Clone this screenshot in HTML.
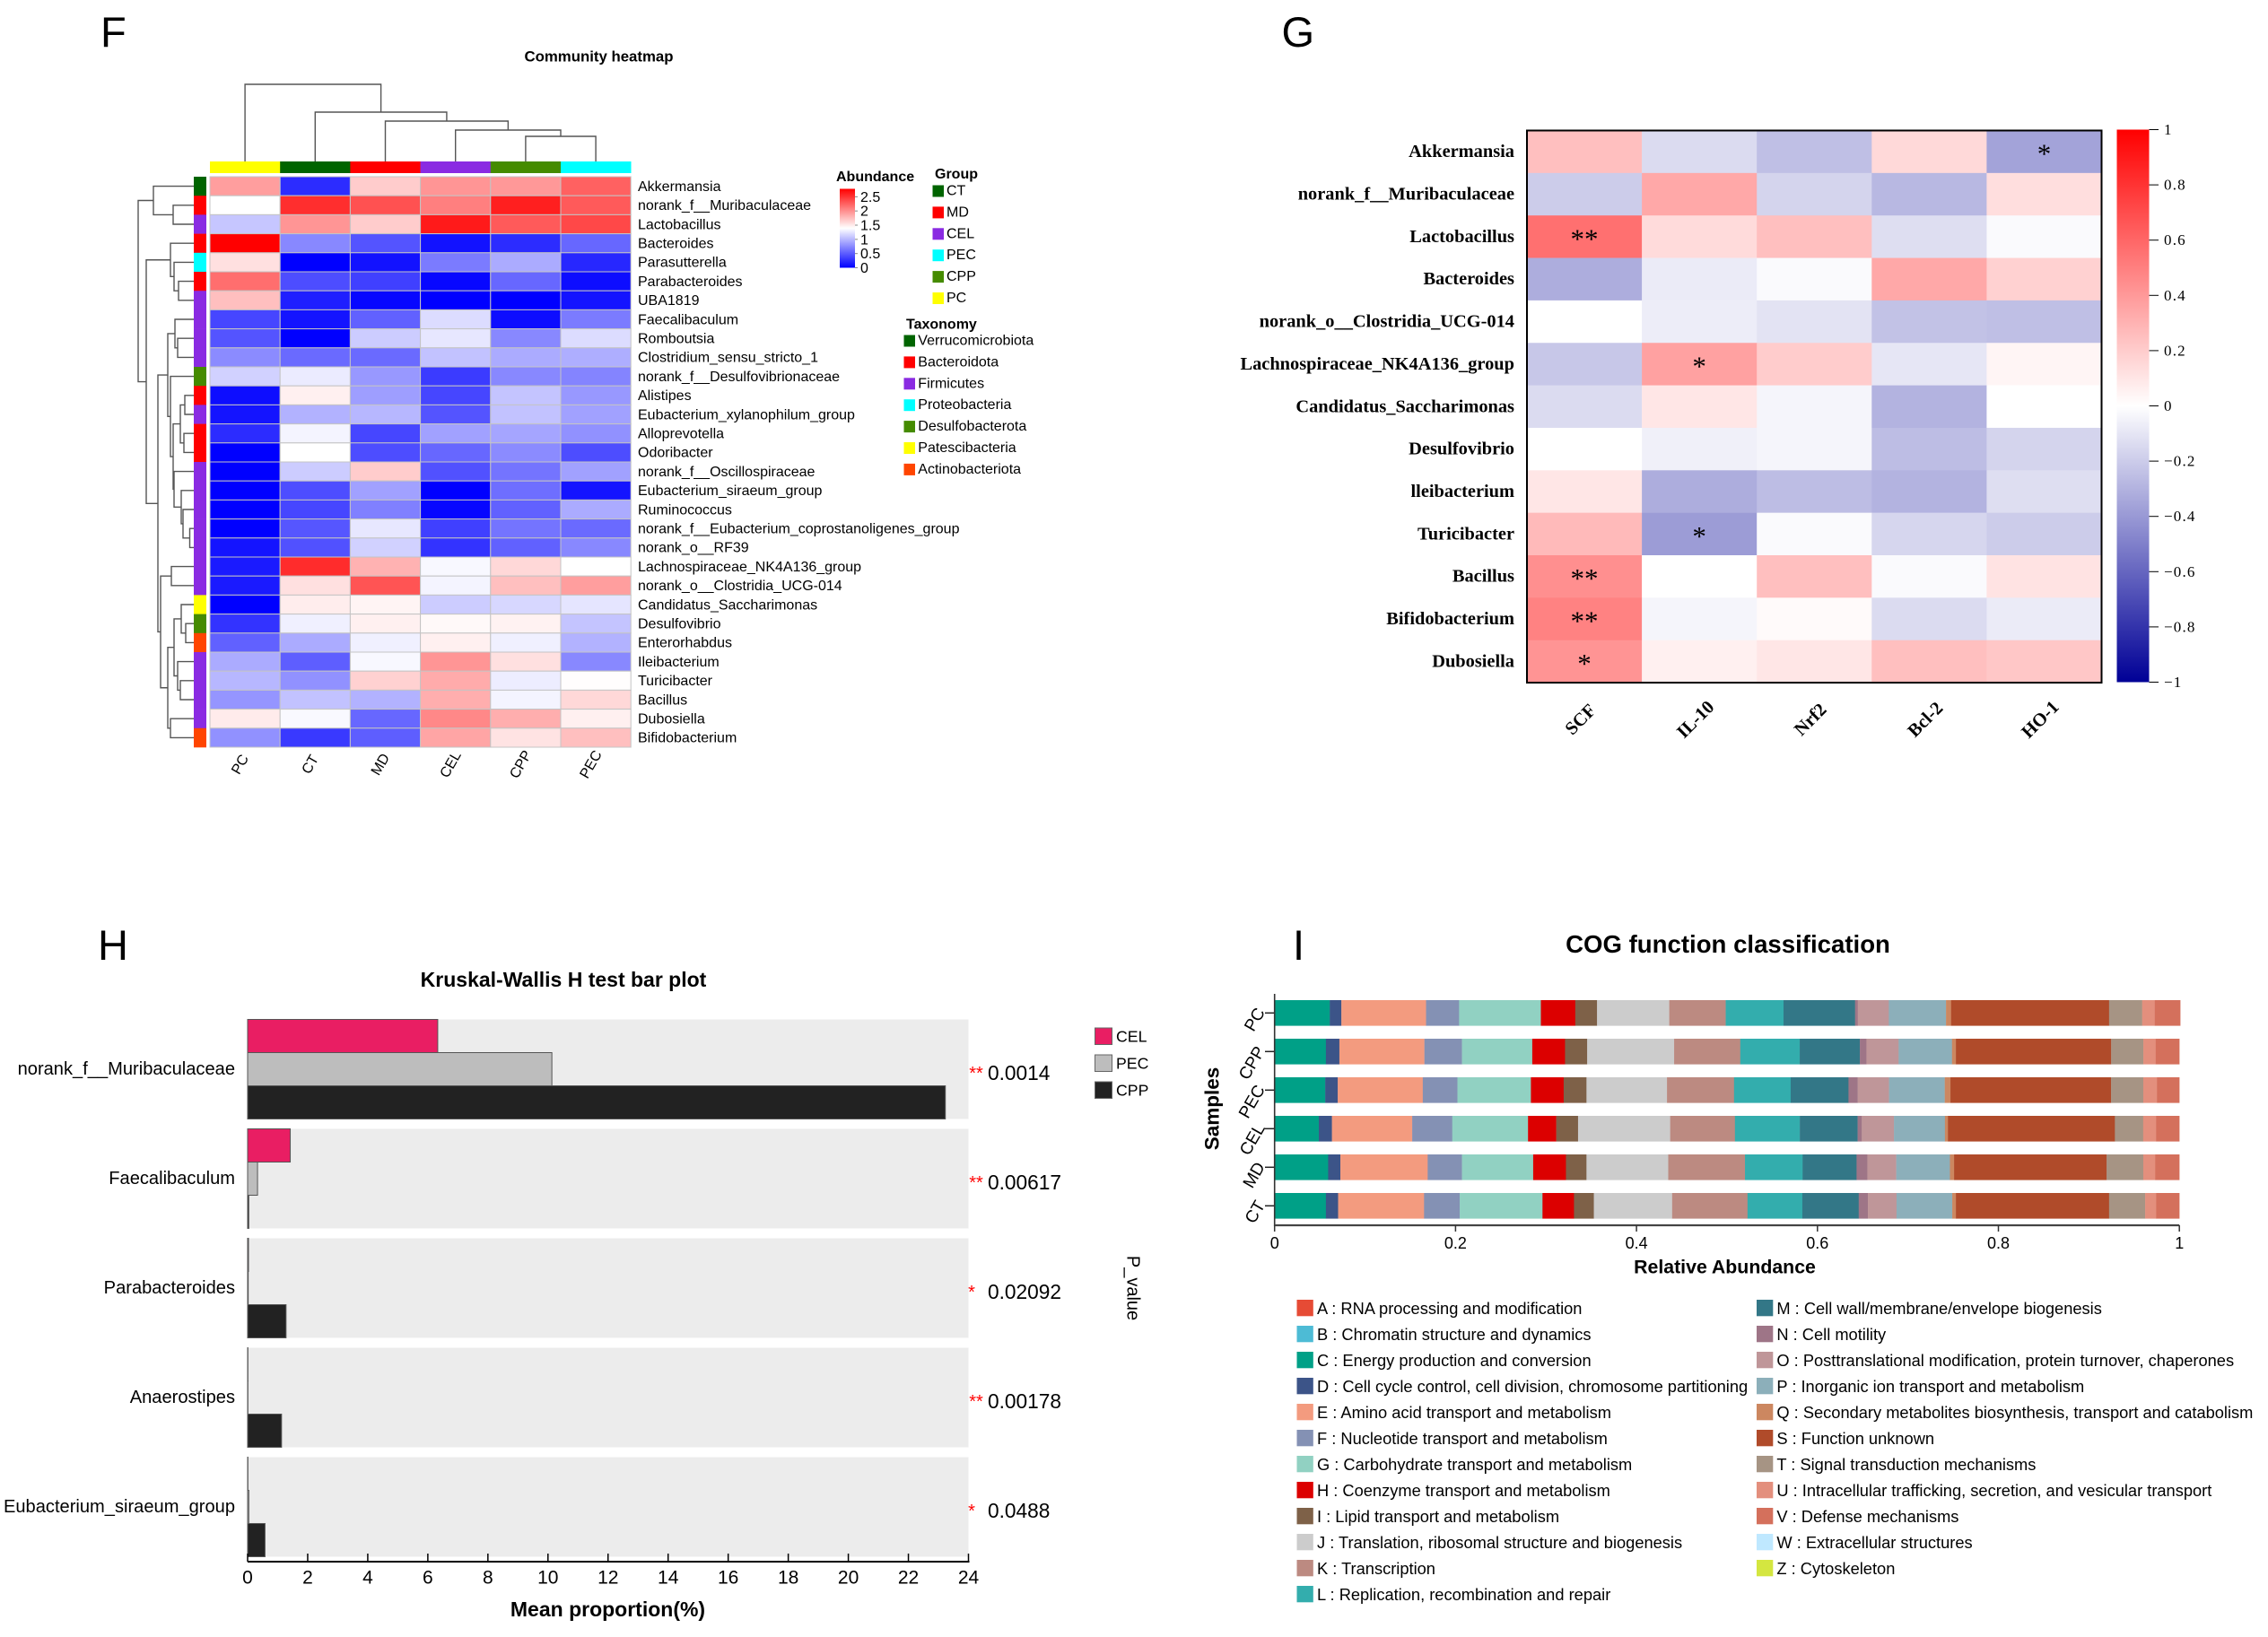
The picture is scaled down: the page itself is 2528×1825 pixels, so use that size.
<!DOCTYPE html>
<html lang="en">
<head>
<meta charset="utf-8">
<title>Community heatmap, correlation heatmap, Kruskal-Wallis bar plot and COG classification</title>
<style>
html,body{margin:0;padding:0;background:#fff;width:2528px;height:1825px;overflow:hidden}
svg{display:block}
text{font-family:"Liberation Sans",Arial,sans-serif;fill:#000}
.serif text,text.serif{font-family:"Liberation Serif","Times New Roman",serif}
.c{dominant-baseline:central}
</style>
</head>
<body>
<svg id="root" width="2528" height="1825" viewBox="0 0 2528 1825">
<defs>
<linearGradient id="abGrad" x1="0" y1="1" x2="0" y2="0"><stop offset="0" stop-color="#0000ff"/><stop offset="0.5" stop-color="#ffffff"/><stop offset="1" stop-color="#ff0000"/></linearGradient>
<linearGradient id="corGrad" x1="0" y1="1" x2="0" y2="0"><stop offset="0" stop-color="#000096"/><stop offset="0.5" stop-color="#ffffff"/><stop offset="1" stop-color="#ff0000"/></linearGradient>
</defs>
<g id="panelF">
<text x="112" y="52" font-size="47">F</text>
<text x="667.5" y="63" class="c" font-size="16.8" font-weight="bold" text-anchor="middle">Community heatmap</text>
<text x="932" y="197.5" class="c" font-size="16" font-weight="bold">Abundance</text>
<rect x="936" y="210.5" width="17" height="88" fill="url(#abGrad)"/>
<text x="1042" y="194.5" class="c" font-size="16" font-weight="bold">Group</text>
<text x="1010" y="362" class="c" font-size="16" font-weight="bold">Taxonomy</text>
</g>
<g id="panelG" class="serif">
<text x="1428.5" y="52" font-size="47" style="font-family:'Liberation Sans',sans-serif">G</text>
<rect x="2359.5" y="144.5" width="36" height="616" fill="url(#corGrad)"/>
</g>
<g id="panelH">
<text x="109" y="1070" font-size="47">H</text>
<text x="628" y="1092" class="c" font-size="23" font-weight="bold" text-anchor="middle">Kruskal-Wallis H test bar plot</text>
<text x="677.5" y="1794" class="c" font-size="23" font-weight="bold" text-anchor="middle">Mean proportion(%)</text>
<text transform="translate(1262.5,1436) rotate(90)" class="c" font-size="20" text-anchor="middle">P_value</text>
</g>
<g id="panelI">
<text x="1441" y="1070" font-size="47">I</text>
<text x="1926" y="1052.5" class="c" font-size="27.6" font-weight="bold" text-anchor="middle">COG function classification</text>
<text x="1922.5" y="1412.5" class="c" font-size="21.3" font-weight="bold" text-anchor="middle">Relative Abundance</text>
<text transform="translate(1351,1236) rotate(-90)" class="c" font-size="22.5" font-weight="bold" text-anchor="middle">Samples</text>
</g>
</svg>
<script>
const root = document.getElementById('root');
const NS = root.namespaceURI;
function mk(tag, parent, attrs, text) {
  const el = document.createElementNS(NS, tag);
  for (const k in attrs) el.setAttribute(k, attrs[k]);
  if (text !== undefined) el.textContent = text;
  parent.appendChild(el);
  return el;
}

/* ---------- Panel F: community heatmap ---------- */
const abundanceSamples = ['PC','CT','MD','CEL','CPP','PEC'];
const abundanceTaxa = ['Akkermansia','norank_f__Muribaculaceae','Lactobacillus','Bacteroides','Parasutterella','Parabacteroides','UBA1819','Faecalibaculum','Romboutsia','Clostridium_sensu_stricto_1','norank_f__Desulfovibrionaceae','Alistipes','Eubacterium_xylanophilum_group','Alloprevotella','Odoribacter','norank_f__Oscillospiraceae','Eubacterium_siraeum_group','Ruminococcus','norank_f__Eubacterium_coprostanoligenes_group','norank_o__RF39','Lachnospiraceae_NK4A136_group','norank_o__Clostridia_UCG-014','Candidatus_Saccharimonas','Desulfovibrio','Enterorhabdus','Ileibacterium','Turicibacter','Bacillus','Dubosiella','Bifidobacterium'];
const abundanceValues = [
[1.92,0.24,1.67,1.97,1.95,2.25],
[1.39,2.53,2.34,2.09,2.61,2.29],
[1.08,1.97,1.67,2.64,2.29,2.39],
[2.78,0.74,0.46,0.10,0.24,0.56],
[1.56,0,0.10,0.67,0.93,0.21],
[2.18,0.42,0.35,0.04,0.56,0.07],
[1.74,0.17,0.04,0,0,0.11],
[0.38,0.11,0.53,1.20,0.07,0.67],
[0.46,0,1.11,1.26,0.74,1.20],
[0.76,0.58,0.58,1.06,0.93,0.95],
[1.14,1.28,0.83,0.32,0.74,0.72],
[0.07,1.47,0.86,0.38,1.07,0.83],
[0.11,0.97,1.00,0.46,1.06,0.88],
[0.24,1.33,0.38,0.88,0.90,0.79],
[0,1.39,0.42,0.56,0.76,0.42],
[0,1.11,1.67,0.44,0.63,0.88],
[0,0.42,0.88,0,0.60,0.11],
[0,0.38,0.70,0.04,0.53,0.93],
[0,0.47,1.26,0.35,0.63,0.58],
[0.11,0.44,1.14,0.28,0.53,0.74],
[0.14,2.54,1.81,1.35,1.60,1.39],
[0.14,1.56,2.32,1.33,1.74,1.92],
[0,1.49,1.45,1.11,1.17,1.25],
[0.28,1.31,1.47,1.42,1.46,1.07],
[0.53,0.93,1.31,1.47,1.31,0.97],
[0.93,0.51,1.35,1.97,1.56,0.74],
[1.00,0.79,1.64,1.85,1.29,1.40],
[0.81,1.06,0.97,1.83,1.33,1.60],
[1.50,1.36,0.56,2.04,1.83,1.47],
[0.79,0.31,0.51,1.88,1.54,1.74]
];
const taxonPhylum = ['Verrucomicrobiota','Bacteroidota','Firmicutes','Bacteroidota','Proteobacteria','Bacteroidota','Firmicutes','Firmicutes','Firmicutes','Firmicutes','Desulfobacterota','Bacteroidota','Firmicutes','Bacteroidota','Bacteroidota','Firmicutes','Firmicutes','Firmicutes','Firmicutes','Firmicutes','Firmicutes','Firmicutes','Patescibacteria','Desulfobacterota','Actinobacteriota','Firmicutes','Firmicutes','Firmicutes','Firmicutes','Actinobacteriota'];
const phylumNames = ['Verrucomicrobiota','Bacteroidota','Firmicutes','Proteobacteria','Desulfobacterota','Patescibacteria','Actinobacteriota'];
const phylumColors = ['#006400','#ff0000','#8a2be2','#00ffff','#458b00','#ffff00','#ff4500'];
const groupNames = ['CT','MD','CEL','PEC','CPP','PC'];
const groupColors = ['#006400','#ff0000','#8a2be2','#00ffff','#458b00','#ffff00'];
const abundanceTicks = [0,0.5,1,1.5,2,2.5];
const abundanceMax = 2.78;
/* dendrograms: [merge distance, child, child]; integers are leaf indices */
const rowTree = [62,[45,0,[23,1,2]],[53,[26,3,[22,4,[17,5,6]]],[40,[29,[21,7,[18,8,9]],[26,10,[23,[15,[10,11,12],[11,13,14]],[22,15,[14,16,[12,17,[4.5,18,19]]]]]]],[37,[25,20,21],[29,[22,[14,22,[9,23,24]],[18,25,[15,26,27]]],[26,28,29]]]]]];
const colTree = [86,0,[55,1,[45,2,[35,3,[28,4,5]]]]];

(function(){
  const g = document.getElementById('panelF');
  const left = 234, top = 197, cw = 78.2, rh = 21.2;
  const xCell = i => left + i * cw;
  const yCell = i => top + i * rh;
  const color = v => {
    const t = Math.max(0, Math.min(1, v / abundanceMax));
    if (t < 0.5) { const c = Math.round(255 * t * 2); return `rgb(${c},${c},255)`; }
    const c = Math.round(255 * (1 - t) * 2); return `rgb(255,${c},${c})`;
  };
  abundanceValues.forEach((row, r) => {
    row.forEach((v, c) => {
      const cell = mk('rect', g, {x:xCell(c), y:yCell(r), width:cw, height:rh, fill:color(v), stroke:'#c4c4c4', 'stroke-width':1});
      
      
    });
    const side = mk('rect', g, {x:216, y:yCell(r), width:14, height:rh+0.3, fill:phylumColors[phylumNames.indexOf(taxonPhylum[r])]});
    
    
    const lab = mk('text', g, {x:711, y:yCell(r)+rh/2+0.8, class:'c', 'font-size':16}, abundanceTaxa[r]);
    
    
  });
  abundanceSamples.forEach((s, c) => {
    const bar = mk('rect', g, {x:xCell(c), y:180, width:cw+0.3, height:13, fill:groupColors[groupNames.indexOf(s)]});
    
    
    const cx = xCell(c) + cw/2 - 5, cy = 852.5;
    const lab = mk('text', g, {transform:`translate(${cx},${cy}) rotate(-60)`, class:'c', 'font-size':16, 'text-anchor':'middle'}, s);
    
    
  });
  /* row dendrogram */
  const xDist = d => 216 - d;
  function drawRow(n) {
    if (typeof n === 'number') return {x:xDist(0), y:yCell(n)+rh/2};
    const a = drawRow(n[1]), b = drawRow(n[2]), x = xDist(n[0]);
    const p = mk('path', g, {d:`M${a.x} ${a.y}H${x}V${b.y}H${b.x}`, fill:'none', stroke:'#555', 'stroke-width':1.4});
    
    
    return {x, y:(a.y+b.y)/2};
  }
  drawRow(rowTree);
  /* column dendrogram */
  const yDist = d => 180 - d;
  function drawCol(n) {
    if (typeof n === 'number') return {x:xCell(n)+cw/2, y:yDist(0)};
    const a = drawCol(n[1]), b = drawCol(n[2]), y = yDist(n[0]);
    const p = mk('path', g, {d:`M${a.x} ${a.y}V${y}H${b.x}V${b.y}`, fill:'none', stroke:'#555', 'stroke-width':1.4});
    
    
    return {x:(a.x+b.x)/2, y};
  }
  drawCol(colTree);
  /* abundance colorbar ticks */
  const yTick = v => 298.5 - v / abundanceMax * 88;
  abundanceTicks.forEach(v => {
    const t = mk('line', g, {x1:953, x2:956, y1:yTick(v), y2:yTick(v), stroke:'#888', 'stroke-width':1});
    
    
    const l = mk('text', g, {x:959, y:yTick(v)+1, class:'c', 'font-size':16}, String(v));
    
    
  });
  /* group legend */
  groupNames.forEach((n, i) => {
    const y = 206.5 + i * 23.9;
    const s = mk('rect', g, {x:1039.5, y, width:12.5, height:13, fill:groupColors[i]});
    
    
    const l = mk('text', g, {x:1055, y:y+6.5, class:'c', 'font-size':16}, n);
    
    
  });
  /* taxonomy legend */
  phylumNames.forEach((n, i) => {
    const y = 373.5 + i * 23.9;
    const s = mk('rect', g, {x:1007.5, y, width:12.5, height:13, fill:phylumColors[i]});
    
    
    const l = mk('text', g, {x:1023.3, y:y+6.5, class:'c', 'font-size':16}, n);
    
    
  });
})();

/* ---------- Panel G: correlation heatmap ---------- */
const corTaxa = ['Akkermansia','norank_f__Muribaculaceae','Lactobacillus','Bacteroides','norank_o__Clostridia_UCG-014','Lachnospiraceae_NK4A136_group','Candidatus_Saccharimonas','Desulfovibrio','lleibacterium','Turicibacter','Bacillus','Bifidobacterium','Dubosiella'];
const corMarkers = ['SCF','IL-10','Nrf2','Bcl-2','HO-1'];
const corValues = [
[0.25,-0.14,-0.25,0.15,-0.36],
[-0.20,0.34,-0.17,-0.28,0.13],
[0.56,0.14,0.25,-0.13,-0.02],
[-0.32,-0.08,-0.02,0.34,0.18],
[0,-0.07,-0.11,-0.24,-0.25],
[-0.22,0.37,0.20,-0.10,0.04],
[-0.14,0.10,-0.04,-0.30,0],
[0,-0.06,-0.04,-0.26,-0.17],
[0.10,-0.32,-0.26,-0.30,-0.13],
[0.27,-0.39,-0.02,-0.16,-0.20],
[0.44,0,0.25,-0.02,0.11],
[0.49,-0.04,0.02,-0.14,-0.08],
[0.42,0.06,0.10,0.25,0.22]
];
const corStars = [
['','','','','*'],
['','','','',''],
['**','','','',''],
['','','','',''],
['','','','',''],
['','*','','',''],
['','','','',''],
['','','','',''],
['','','','',''],
['','*','','',''],
['**','','','',''],
['**','','','',''],
['*','','','','']
];
const corTicks = [1,0.8,0.6,0.4,0.2,0,-0.2,-0.4,-0.6,-0.8,-1];

(function(){
  const g = document.getElementById('panelG');
  const left = 1702, top = 145.5, cw = 128.1, rh = 47.35;
  const xCell = i => left + i * cw;
  const yCell = i => top + i * rh;
  const color = v => {
    if (v >= 0) { const c = Math.round(255 * (1 - v)); return `rgb(255,${c},${c})`; }
    const a = -v, c = Math.round(255 * (1 - a));
    return `rgb(${c},${c},${Math.round(255 - 105 * a)})`;
  };
  corValues.forEach((row, r) => {
    row.forEach((v, c) => {
      const cell = mk('rect', g, {x:xCell(c), y:yCell(r), width:cw+0.3, height:rh+0.3, fill:color(v)});
      
      
      if (corStars[r][c]) {
        const st = mk('text', g, {x:xCell(c)+cw/2, y:yCell(r)+rh/2+12.5, 'font-size':31, 'text-anchor':'middle'}, corStars[r][c]);
        
        
      }
    });
    const lab = mk('text', g, {x:1688, y:yCell(r)+rh/2, class:'c', 'font-size':20.4, 'font-weight':'bold', 'text-anchor':'end'}, corTaxa[r]);
    
    
  });
  const frame = mk('rect', g, {x:left, y:top, width:cw*5, height:rh*13, fill:'none', stroke:'#000', 'stroke-width':2});
  
  
  corMarkers.forEach((m, c) => {
    const lab = mk('text', g, {transform:`translate(${xCell(c)+cw/2-4},802.5) rotate(-45)`, class:'c', 'font-size':20.5, 'font-weight':'bold', 'text-anchor':'middle'}, m);
    
    
  });
  const yBar = v => 452.5 - v * 308;
  corTicks.forEach(v => {
    const t = mk('line', g, {x1:2395.5, x2:2406, y1:yBar(v), y2:yBar(v), stroke:'#000', 'stroke-width':1});
    
    
    const l = mk('text', g, {x:2412, y:yBar(v), class:'c', 'font-size':17, 'letter-spacing':1.2}, String(v).replace('-', '\u2212'));
    
    
  });
})();

/* ---------- Panel H: Kruskal-Wallis bar plot ---------- */
const kwTaxa = ['norank_f__Muribaculaceae','Faecalibaculum','Parabacteroides','Anaerostipes','Eubacterium_siraeum_group'];
const kwCEL = [6.33,1.42,0.03,0.01,0.01];
const kwPEC = [10.13,0.33,0.02,0.01,0.04];
const kwCPP = [23.23,0.04,1.28,1.13,0.58];
const kwStars = ['**','**','*','**','*'];
const kwPValues = ['0.0014','0.00617','0.02092','0.00178','0.0488'];
const kwTicks = [0,2,4,6,8,10,12,14,16,18,20,22,24];
const kwLegend = ['CEL','PEC','CPP'];
const kwColors = ['#e91e63','#bdbdbd','#222222'];

(function(){
  const g = document.getElementById('panelH');
  const x0 = 276, x1 = 1079.5;
  const xScale = v => x0 + v / 24 * (x1 - x0);
  const groupTop = i => 1136.5 + i * 122;
  const gh = 111, bh = gh / 3;
  const series = [kwCEL, kwPEC, kwCPP];
  kwTaxa.forEach((t, i) => {
    const y = groupTop(i);
    const bg = mk('rect', g, {x:x0, y, width:x1-x0, height:gh, fill:'#ececec'});
    
    
    series.forEach((s, k) => {
      const bar = mk('rect', g, {x:x0, y:y+k*bh, width:xScale(s[i])-x0, height:bh, fill:kwColors[k], stroke:'#555', 'stroke-width':1});
      
      
    });
    const lab = mk('text', g, {x:262, y:y+55.5, class:'c', 'font-size':20.1, 'text-anchor':'end'}, t);
    
    
    const single = kwStars[i].length === 1;
    const st = mk('text', g, {x:single ? 1083 : 1088, y:y+66.5, 'font-size':20, 'text-anchor':'middle', style:'fill:#ff0000'}, kwStars[i]);
    
    
    const p = mk('text', g, {x:1101, y:y+59.5, class:'c', 'font-size':22.7}, kwPValues[i]);
    
    
  });
  const axis = mk('line', g, {x1:x0, x2:x1+1, y1:1741, y2:1741, stroke:'#000', 'stroke-width':2});
  
  
  kwTicks.forEach(v => {
    const t = mk('line', g, {x1:xScale(v), x2:xScale(v), y1:1732, y2:1741, stroke:'#000', 'stroke-width':1.5});
    
    
    const l = mk('text', g, {x:xScale(v), y:1759, class:'c', 'font-size':21, 'text-anchor':'middle'}, String(v));
    
    
  });
  kwLegend.forEach((n, i) => {
    const y = 1146 + i * 30;
    const s = mk('rect', g, {x:1220.5, y, width:19, height:18.5, fill:kwColors[i], stroke:'#666', 'stroke-width':1});
    
    
    const l = mk('text', g, {x:1244, y:y+9.5, class:'c', 'font-size':17.7}, n);
    
    
  });
})();

/* ---------- Panel I: COG function classification ---------- */
const cogSamples = ['PC','CPP','PEC','CEL','MD','CT'];
const cogOrder = ['C','D','E','F','G','H','I','J','K','L','M','N','O','P','Q','S','T','U','V'];
const cogSharesPC  = [.061,.0128,.0936,.0365,.0904,.038,.0241,.0798,.0624,.0639,.0791,.003,.0343,.0632,.0056,.1746,.0366,.0138,.0283];
const cogSharesCPP = [.0567,.0149,.094,.0415,.0777,.0362,.0245,.0961,.0731,.0657,.0665,.0072,.0356,.059,.0043,.1716,.0356,.0135,.0263];
const cogSharesPEC = [.056,.0138,.094,.0383,.0812,.0362,.0252,.089,.0741,.0626,.0639,.0102,.0346,.0616,.0063,.1775,.0356,.0152,.0247];
const cogSharesCEL = [.0489,.0145,.0887,.0443,.0837,.0312,.0241,.1018,.0716,.0717,.0639,.0046,.0356,.0563,.0033,.1845,.0313,.0142,.0258];
const cogSharesMD  = [.0592,.0135,.0965,.0379,.0787,.0362,.0227,.0904,.0848,.0637,.0596,.0119,.032,.0593,.0046,.1686,.0405,.0132,.0267];
const cogSharesCT  = [.0567,.0135,.095,.0394,.0915,.0348,.022,.0865,.0833,.0606,.0623,.0102,.0316,.0616,.004,.1693,.0399,.0122,.0256];
const cogTicks = [0,0.2,0.4,0.6,0.8,1];
const cogLetters = ['A','B','C','D','E','F','G','H','I','J','K','L','M','N','O','P','Q','S','T','U','V','W','Z'];
const cogNames = ['RNA processing and modification','Chromatin structure and dynamics','Energy production and conversion','Cell cycle control, cell division, chromosome partitioning','Amino acid transport and metabolism','Nucleotide transport and metabolism','Carbohydrate transport and metabolism','Coenzyme transport and metabolism','Lipid transport and metabolism','Translation, ribosomal structure and biogenesis','Transcription','Replication, recombination and repair','Cell wall/membrane/envelope biogenesis','Cell motility','Posttranslational modification, protein turnover, chaperones','Inorganic ion transport and metabolism','Secondary metabolites biosynthesis, transport and catabolism','Function unknown','Signal transduction mechanisms','Intracellular trafficking, secretion, and vesicular transport','Defense mechanisms','Extracellular structures','Cytoskeleton'];
const cogColors = ['#E64B35','#4DBBD5','#00A087','#3C5488','#F39B7F','#8491B4','#91D1C2','#DC0000','#7E6148','#CCCCCC','#BC8A81','#33ADAD','#337787','#9E7587','#BF9699','#8CAFBA','#CC8760','#B04B2A','#A69484','#E38F7D','#D4705C','#BFE8FF','#D4E640'];

(function(){
  const g = document.getElementById('panelI');
  const x0 = 1420.7, x1 = 2429.2;
  const xScale = v => x0 + v * (x1 - x0);
  const yBar = i => 1115 + i * 43;
  const bh = 28.6;
  const shares = [cogSharesPC, cogSharesCPP, cogSharesPEC, cogSharesCEL, cogSharesMD, cogSharesCT];
  shares.forEach((row, i) => {
    let cum = 0;
    row.forEach((v, k) => {
      const seg = mk('rect', g, {x:xScale(cum), y:yBar(i), width:xScale(cum+v)-xScale(cum)+0.2, height:bh, fill:cogColors[cogLetters.indexOf(cogOrder[k])]});
      
      
      cum += v;
    });
    const cy = yBar(i) + bh/2;
    const t = mk('line', g, {x1:1410, x2:1420.7, y1:cy, y2:cy, stroke:'#222', 'stroke-width':1.5});
    
    
    const l = mk('text', g, {transform:`translate(1410.5,${cy-1}) rotate(-60)`, 'font-size':19, 'text-anchor':'end'}, cogSamples[i]);
    
    
  });
  const ya = mk('line', g, {x1:x0, x2:x0, y1:1108, y2:1367, stroke:'#333', 'stroke-width':1.6});
  
  
  const xa = mk('line', g, {x1:x0, x2:x1, y1:1366, y2:1366, stroke:'#444', 'stroke-width':2.2});
  
  
  cogTicks.forEach(v => {
    const t = mk('line', g, {x1:xScale(v), x2:xScale(v), y1:1366, y2:1373, stroke:'#333', 'stroke-width':1.5});
    
    
    const l = mk('text', g, {x:xScale(v), y:1386, class:'c', 'font-size':18, 'text-anchor':'middle'}, String(v));
    
    
  });
  cogLetters.forEach((c, i) => {
    const col = i < 12 ? 0 : 1, row = i < 12 ? i : i - 12;
    const y = 1449 + row * 29;
    const s = mk('rect', g, {x:col ? 1958 : 1445.5, y, width:18.3, height:18.3, fill:cogColors[i]});
    
    
    const l = mk('text', g, {x:col ? 1980.4 : 1468, y:y+9.3, class:'c', 'font-size':18.28}, c + ' : ' + cogNames[i]);
    
    
  });
})();
</script>
</body>
</html>
